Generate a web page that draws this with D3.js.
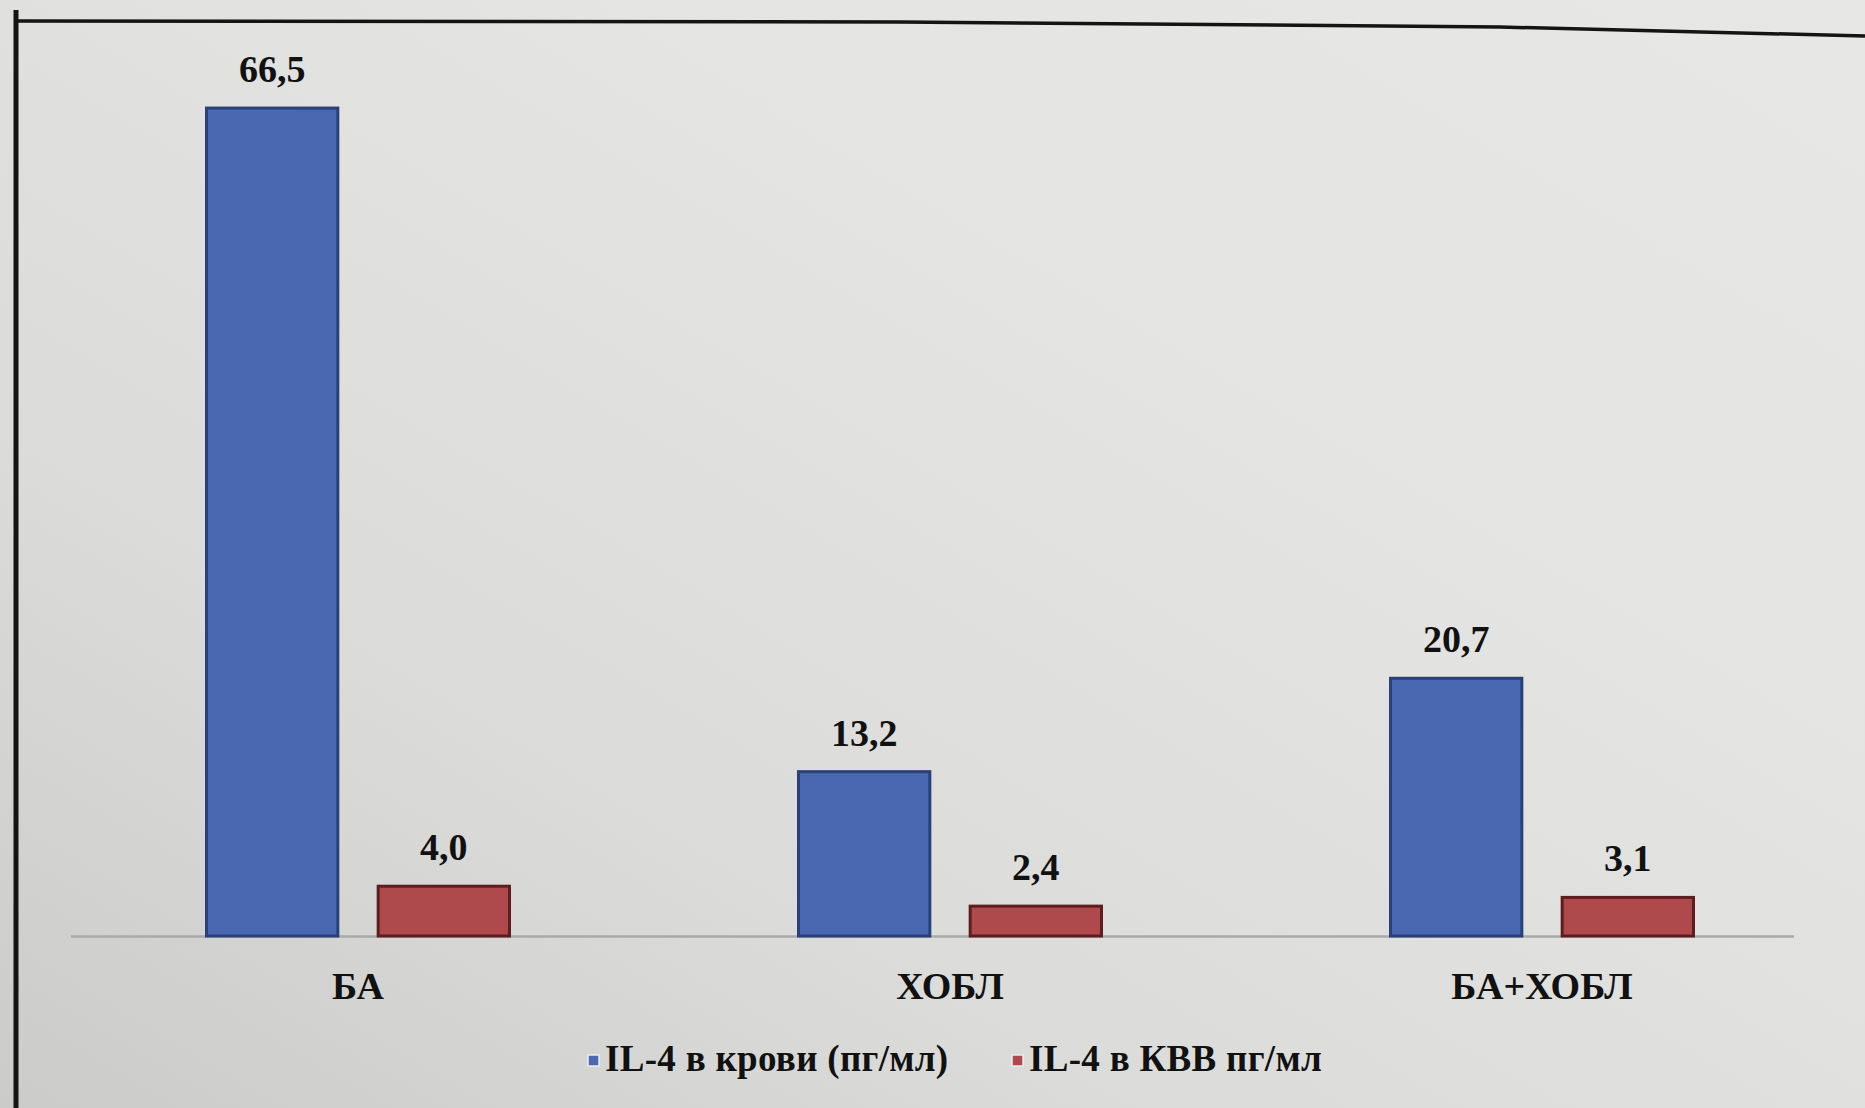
<!DOCTYPE html>
<html>
<head>
<meta charset="utf-8">
<script src="https://cdn.jsdelivr.net/npm/d3@7"></script>
<style>
  html, body { margin: 0; padding: 0; background: #d6d7d5; }
  svg { display: block; }
  text { font-family: "Liberation Serif", "DejaVu Serif", serif; font-weight: bold; fill: #111; }
</style>
</head>
<body>
<svg id="chart" width="1865" height="1108"></svg>
<script>
// Groups and series
const categories = ["БА", "ХОБЛ", "БА+ХОБЛ"];
const seriesNames = ["IL-4 в крови (пг/мл)", "IL-4 в КВВ пг/мл"];
const bloodValues = [66.5, 13.2, 20.7];
const kvvValues = [4.0, 2.4, 3.1];
const seriesColors = ["#4a68b2", "#ae494c"];
const seriesStrokes = ["#2b3f78", "#5e1d20"];

const fmt = v => v.toFixed(1).replace(".", ",");

const rows = categories.map((c, i) => ({
  category: c,
  values: [bloodValues[i], kvvValues[i]]
}));

const svg = d3.select("#chart");
const W = 1865, H = 1108;

// Paper background with uneven lighting
const defs = svg.append("defs");
const grad = defs.append("linearGradient")
  .attr("id", "paper").attr("x1", "0").attr("y1", "1").attr("x2", "1").attr("y2", "0");
grad.append("stop").attr("offset", "0").attr("stop-color", "#cbccca");
grad.append("stop").attr("offset", "0.3").attr("stop-color", "#dbdcda");
grad.append("stop").attr("offset", "0.65").attr("stop-color", "#e4e4e2");
grad.append("stop").attr("offset", "1").attr("stop-color", "#e7e7e5");
svg.append("rect").attr("width", W).attr("height", H).attr("fill", "url(#paper)");

// Box frame (left and top edges)
svg.append("line").attr("x1", 16).attr("y1", 10).attr("x2", 16).attr("y2", H)
  .attr("stroke", "#141414").attr("stroke-width", 5);
svg.append("path").attr("d", `M14,21 L900,22 L1500,27 L1865,36`)
  .attr("fill", "none").attr("stroke", "#141414").attr("stroke-width", 3.5);

// Scales
const x0 = d3.scaleBand().domain(categories).range([62, 1838]);
const gw = 303;
const x1 = d3.scaleBand().domain(d3.range(seriesNames.length))
  .range([(x0.step() - gw) / 2, (x0.step() + gw) / 2])
  .paddingInner(0.235);
const y = d3.scaleLinear().domain([0, 70]).range([936, 936 - 70 * 12.45]);

// Category axis line
const xAxis = d3.axisBottom(x0).tickSize(0).tickPadding(36);
const ax = svg.append("g").attr("transform", `translate(0,${y(0)})`).call(xAxis);
ax.select(".domain").attr("stroke", "#a9aaa8").attr("stroke-width", 2.5)
  .attr("d", `M71,0.5H1794`);
ax.selectAll(".tick text")
  .attr("font-size", 38)
  .attr("font-family", "'Liberation Serif', serif")
  .attr("font-weight", "bold")
  .attr("fill", "#151515");

// Bars
const groups = svg.append("g").selectAll("g").data(rows).join("g")
  .attr("transform", d => `translate(${x0(d.category)},0)`);

groups.selectAll("rect").data(d => d.values.map((v, i) => ({ v, i }))).join("rect")
  .attr("x", d => x1(d.i))
  .attr("y", d => y(d.v))
  .attr("width", x1.bandwidth())
  .attr("height", d => y(0) - y(d.v))
  .attr("fill", d => seriesColors[d.i])
  .attr("stroke", d => seriesStrokes[d.i])
  .attr("stroke-width", 3);

// Value labels
groups.selectAll("text.val").data(d => d.values.map((v, i) => ({ v, i }))).join("text")
  .attr("class", "val")
  .attr("x", d => x1(d.i) + x1.bandwidth() / 2)
  .attr("y", d => y(d.v) - 26)
  .attr("text-anchor", "middle")
  .attr("font-size", 38)
  .text(d => fmt(d.v));

// Legend
const legendX = [588, 1012];
const legend = svg.append("g");
seriesNames.forEach((name, i) => {
  const lx = legendX[i];
  legend.append("rect")
    .attr("x", lx).attr("y", 1055).attr("width", 11).attr("height", 11)
    .attr("fill", seriesColors[i]).attr("stroke", "#ececec").attr("stroke-width", 1.5);
  legend.append("text")
    .attr("x", lx + 17).attr("y", 1071)
    .attr("font-size", 37)
    .attr("letter-spacing", 0.3)
    .text(name);
});
</script>
</body>
</html>
